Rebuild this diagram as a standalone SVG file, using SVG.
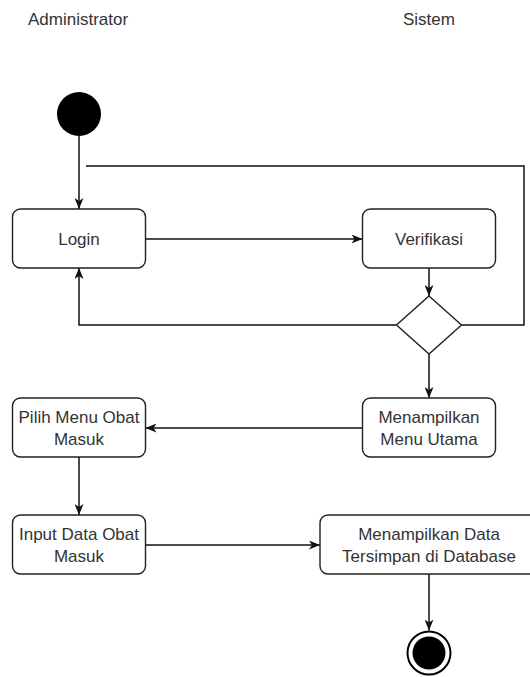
<svg xmlns="http://www.w3.org/2000/svg" width="530" height="677" viewBox="0 0 530 677">
  <style>
    .lane { font-family: "Liberation Sans", Arial, sans-serif; font-size: 17px; fill: #333333; }
    .label { font-family: "Liberation Sans", Arial, sans-serif; font-size: 17px; fill: #333333; text-anchor: middle; }
    .box { fill: #ffffff; stroke: #222222; stroke-width: 1.4; }
    .edge { fill: none; stroke: #111111; stroke-width: 1.5; }
  </style>
  <defs>
    <marker id="arrow" viewBox="0 0 11 9" refX="11" refY="4.5" markerWidth="11" markerHeight="9" markerUnits="userSpaceOnUse" orient="auto">
      <path d="M0,0 L11,4.5 L0,9 L3,4.5 z" fill="#111111"/>
    </marker>
  </defs>

  <rect width="530" height="677" fill="#ffffff"/>

  <!-- swimlane headers -->
  <text class="lane" x="28" y="25">Administrator</text>
  <text class="lane" x="403" y="25">Sistem</text>

  <!-- connectors -->
  <g id="connectors">
    <path class="edge" d="M79,136 V209" marker-end="url(#arrow)"/>
    <path class="edge" d="M145.5,239 H362.5" marker-end="url(#arrow)"/>
    <path class="edge" d="M429,268 V296" marker-end="url(#arrow)"/>
    <path class="edge" d="M396.5,325 H79 V268" marker-end="url(#arrow)"/>
    <path class="edge" d="M461.5,325 H524 V166 H86"/>
    <path class="edge" d="M429,354 V398" marker-end="url(#arrow)"/>
    <path class="edge" d="M362.5,428 H145.5" marker-end="url(#arrow)"/>
    <path class="edge" d="M79,457 V515" marker-end="url(#arrow)"/>
    <path class="edge" d="M145.5,545 H320" marker-end="url(#arrow)"/>
    <path class="edge" d="M429,574 V630.5" marker-end="url(#arrow)"/>
  </g>

  <!-- start -->
  <g id="start">
    <circle cx="79" cy="114" r="22" fill="#000000"/>
  </g>

  <g id="login">
    <rect class="box" x="12.5" y="209" width="133" height="59" rx="8"/>
    <text class="label" x="79" y="245">Login</text>
  </g>

  <g id="verifikasi">
    <rect class="box" x="362.5" y="209" width="133" height="59" rx="8"/>
    <text class="label" x="429" y="245">Verifikasi</text>
  </g>

  <g id="decision">
    <polygon class="box" points="429,296 461.5,325 429,354 396.5,325"/>
  </g>

  <g id="menu-utama">
    <rect class="box" x="362.5" y="398" width="133" height="59" rx="8"/>
    <text class="label" x="429" y="422.5">Menampilkan</text>
    <text class="label" x="429" y="445">Menu Utama</text>
  </g>

  <g id="pilih-menu">
    <rect class="box" x="12.5" y="398" width="133" height="59" rx="8"/>
    <text class="label" x="79" y="422.5">Pilih Menu Obat</text>
    <text class="label" x="79" y="445">Masuk</text>
  </g>

  <g id="input-data">
    <rect class="box" x="12.5" y="515" width="133" height="59" rx="8"/>
    <text class="label" x="79" y="539.5">Input Data Obat</text>
    <text class="label" x="79" y="562">Masuk</text>
  </g>

  <g id="tampil-data">
    <rect class="box" x="320" y="515" width="218" height="59" rx="8"/>
    <text class="label" x="429" y="539.5">Menampilkan Data</text>
    <text class="label" x="429" y="562">Tersimpan di Database</text>
  </g>

  <!-- end -->
  <g id="end">
    <circle cx="429" cy="653" r="21.5" fill="#ffffff" stroke="#000000" stroke-width="2"/>
    <circle cx="429" cy="653" r="16.5" fill="#000000"/>
  </g>
</svg>
